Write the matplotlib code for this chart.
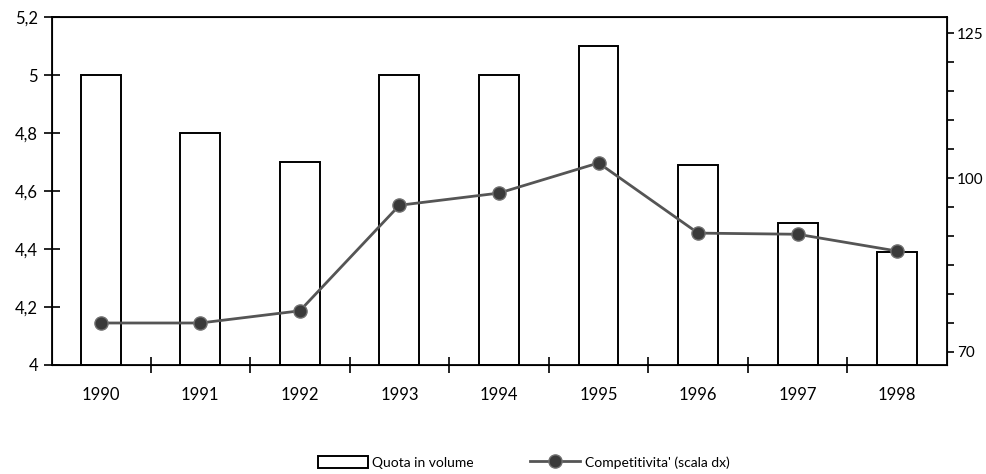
import numpy as np
import matplotlib.pyplot as plt
from matplotlib.ticker import FuncFormatter, MultipleLocator, FixedLocator

years = ['1990', '1991', '1992', '1993', '1994', '1995', '1996', '1997', '1998']
quota = [5.0, 4.8, 4.7, 5.0, 5.0, 5.1, 4.69, 4.49, 4.39]
competitivita = [75.0, 75.0, 77.1, 95.3, 97.4, 102.6, 90.5, 90.3, 87.4]

plt.rcParams['font.family'] = ['Lato', 'DejaVu Sans']

fig = plt.figure(figsize=(9.86, 4.74), dpi=100)
ax = fig.add_axes([0.0527, 0.2300, 0.9077, 0.7341])
x = np.arange(len(years))

bars = ax.bar(x, [q - 4 for q in quota], bottom=4, width=0.4,
              facecolor='white', edgecolor='black', linewidth=1.4,
              label='Quota in volume', zorder=2)

ax.set_xlim(-0.49, 8.5)
ax.set_ylim(4, 5.2)
ax.yaxis.set_major_locator(MultipleLocator(0.2))
ax.yaxis.set_major_formatter(FuncFormatter(lambda v, p: f'{v:g}'.replace('.', ',')))
ax.tick_params(axis='y', direction='inout', length=12, width=1.2, labelsize=12, pad=4)

ax.set_xticks(x)
ax.set_xticklabels(years)
ax.xaxis.set_minor_locator(FixedLocator(np.arange(0.5, 8, 1)))
ax.tick_params(axis='x', which='major', length=0, labelsize=12, pad=16)
ax.tick_params(axis='x', which='minor', direction='inout', length=11, width=1.2)
for s in ax.spines.values():
    s.set_linewidth(1.3)

ax2 = ax.twinx()
ax2.set_ylim(67.76, 127.76)
ax2.set_yticks([70, 100, 125])
ax2.yaxis.set_minor_locator(MultipleLocator(5))
ax2.tick_params(axis='y', which='both', direction='out', length=5, width=1.2,
                labelsize=11, pad=2)
line, = ax2.plot(x, competitivita, color='#555555', linewidth=2.0, marker='o',
                 markersize=9.5, markerfacecolor='#3a3a3a', markeredgecolor='#707070',
                 label="Competitivita' (scala dx)", zorder=3)

fig.legend([bars, line], ['Quota in volume', "Competitivita' (scala dx)"],
           loc='lower center', bbox_to_anchor=(0.531, -0.015), ncol=2, frameon=False,
           fontsize=10, handlelength=3.6, handleheight=0.9, columnspacing=4.1,
           handletextpad=0.3)

fig.savefig('out.png', dpi=100)
